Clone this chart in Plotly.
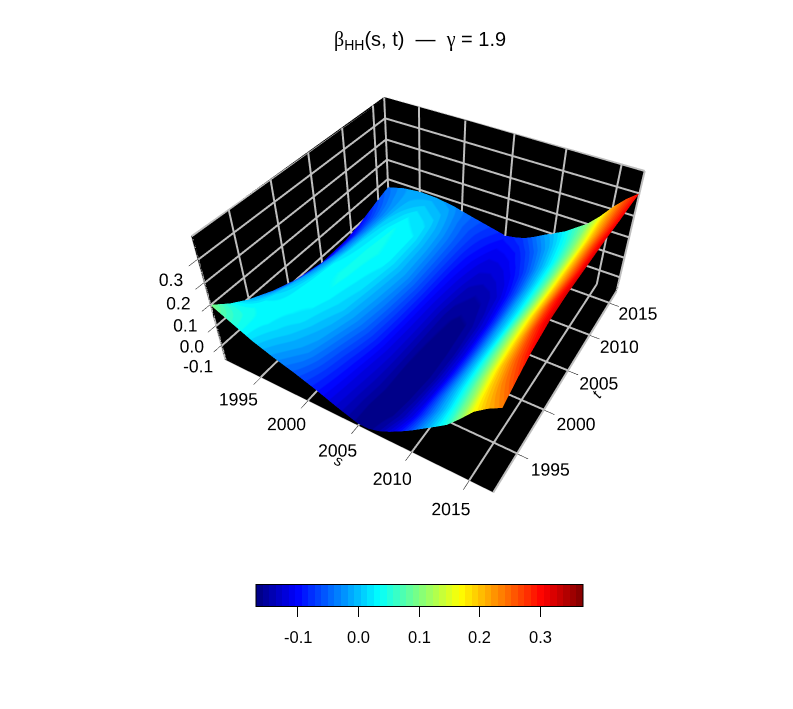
import plotly.graph_objects as go
import numpy as np

s_years = [1991, 1993, 1995, 1997, 1999, 2001, 2003, 2005, 2006, 2007, 2008, 2009, 2010, 2011, 2012, 2013, 2014, 2015, 2016, 2017]
t_years = [1991, 1993, 1995, 1998, 2001, 2005, 2009, 2012, 2015, 2017]

# beta_HH(s, t), one row per t
beta_hh = [
    [0.100, 0.055, 0.010, -0.025, -0.055, -0.090, -0.130, -0.165, -0.165, -0.150, -0.125, -0.095, -0.062, -0.025, 0.012, 0.050, 0.105, 0.165, 0.205, 0.235],
    [0.040, 0.040, 0.025, 0.000, -0.030, -0.080, -0.125, -0.165, -0.168, -0.160, -0.140, -0.110, -0.070, -0.030, 0.012, 0.060, 0.115, 0.180, 0.230, 0.270],
    [-0.007, 0.025, 0.030, 0.018, -0.015, -0.070, -0.120, -0.160, -0.168, -0.165, -0.145, -0.115, -0.070, -0.025, 0.020, 0.070, 0.130, 0.195, 0.250, 0.300],
    [-0.060, 0.000, 0.032, 0.032, 0.005, -0.050, -0.110, -0.160, -0.170, -0.168, -0.150, -0.120, -0.075, -0.025, 0.025, 0.080, 0.140, 0.205, 0.270, 0.325],
    [-0.100, -0.025, 0.028, 0.038, 0.015, -0.040, -0.105, -0.158, -0.168, -0.165, -0.150, -0.120, -0.075, -0.025, 0.025, 0.085, 0.145, 0.210, 0.275, 0.330],
    [-0.130, -0.045, 0.015, 0.040, 0.028, -0.030, -0.100, -0.155, -0.163, -0.160, -0.145, -0.115, -0.070, -0.020, 0.025, 0.080, 0.140, 0.205, 0.265, 0.325],
    [-0.125, -0.050, 0.008, 0.035, 0.025, -0.035, -0.095, -0.140, -0.148, -0.145, -0.130, -0.100, -0.060, -0.015, 0.030, 0.080, 0.140, 0.205, 0.265, 0.320],
    [-0.100, -0.045, 0.000, 0.022, 0.010, -0.040, -0.090, -0.125, -0.127, -0.120, -0.105, -0.080, -0.045, -0.005, 0.035, 0.085, 0.140, 0.205, 0.260, 0.310],
    [-0.065, -0.030, -0.008, 0.000, -0.012, -0.050, -0.080, -0.105, -0.102, -0.095, -0.075, -0.050, -0.020, 0.015, 0.050, 0.095, 0.150, 0.210, 0.260, 0.305],
    [-0.045, -0.022, -0.012, -0.015, -0.028, -0.050, -0.070, -0.090, -0.082, -0.070, -0.047, -0.020, 0.005, 0.030, 0.065, 0.100, 0.150, 0.210, 0.260, 0.300],
]

year_ticks = [1995, 2000, 2005, 2010, 2015]
z_ticks = [-0.1, 0.0, 0.1, 0.2, 0.3]
z_labels = ["-0.1", "0.0", "0.1", "0.2", "0.3"]
jet_ramp = ["#00007F", "#0000FF", "#007FFF", "#00FFFF", "#7FFF7F", "#FFFF00", "#FF7F00", "#FF0000", "#7F0000"]
n_colors = 50
font_name = "Liberation Sans"
grey = "#BEBEBE"

s_lim = [1991, 2017]
t_lim = [1991, 2017]
z_lim = [-0.176, 0.395]
c_lim = [-0.17, 0.37]

# the page body has an 8px margin, so the figure is 16px short of the window
W, H = 785, 701
bar_left, bar_width = 247.5, 327


def stepped_scale(ramp, n):
    rgb = np.array([[int(c[i:i + 2], 16) for i in (1, 3, 5)] for c in ramp], dtype=float)
    pos = np.linspace(0, 1, len(ramp))
    scale = []
    for i in range(n):
        mid = (i + 0.5) / n
        col = [int(round(np.interp(mid, pos, rgb[:, k]))) for k in range(3)]
        css = "rgb(%d,%d,%d)" % tuple(col)
        scale.append([i / n, css])
        scale.append([(i + 1) / n, css])
    return scale


def axis(ticks, labels, rng):
    return dict(
        title=dict(text=""),
        range=rng,
        tickmode="array",
        tickvals=ticks,
        ticktext=labels,
        tickangle=0,
        tickfont=dict(family=font_name, size=14.5, color="black"),
        ticks="outside",
        ticklen=9,
        tickwidth=1,
        tickcolor="black",
        showgrid=False,
        showline=True,
        linecolor=grey,
        linewidth=1,
        showbackground=True,
        backgroundcolor="black",
        showspikes=False,
        zeroline=False,
    )


# grey wall grid and box edges, thicker than the native gl grid can go
gx, gy, gz = [], [], []


def add_line(p, q):
    gx.extend([p[0], q[0], None])
    gy.extend([p[1], q[1], None])
    gz.extend([p[2], q[2], None])


# lifted just off the walls so they do not fight with them
s0, s1 = s_lim[0] + 0.06, s_lim[1]
t0, t1 = t_lim[0], t_lim[1] - 0.06
z0, z1 = z_lim[0] + 0.0015, z_lim[1]
for yr in year_ticks:
    add_line((yr, t0, z0), (yr, t1, z0))
    add_line((s0, yr, z0), (s1, yr, z0))
    add_line((s0, yr, z0), (s0, yr, z1))
    add_line((yr, t1, z0), (yr, t1, z1))
for zv in z_ticks:
    add_line((s0, t0, zv), (s0, t1, zv))
    add_line((s0, t1, zv), (s1, t1, zv))
add_line((s0, t0, z0), (s1, t0, z0))
add_line((s1, t0, z0), (s1, t1, z0))
add_line((s0, t0, z0), (s0, t0, z1))
add_line((s1, t1, z0), (s1, t1, z1))
add_line((s0, t1, z0), (s0, t1, z1))
add_line((s0, t0, z1), (s0, t1, z1))
add_line((s0, t1, z1), (s1, t1, z1))

fig = go.Figure()
fig.add_trace(go.Scatter3d(
    x=gx, y=gy, z=gz,
    mode="lines",
    line=dict(color=grey, width=4),
    hoverinfo="skip",
    showlegend=False,
))
fig.add_trace(go.Surface(
    x=s_years,
    y=t_years,
    z=beta_hh,
    cmin=c_lim[0],
    cmax=c_lim[1],
    colorscale=stepped_scale(jet_ramp, n_colors),
    lighting=dict(ambient=1, diffuse=0, specular=0, roughness=1, fresnel=0),
    hoverinfo="skip",
    colorbar=dict(
        orientation="h",
        lenmode="pixels",
        len=bar_width,
        thickness=22,
        x=(bar_left + bar_width / 2) / W,
        xanchor="center",
        y=1 - 593 / H,
        yanchor="middle",
        xpad=0,
        ypad=0,
        outlinecolor="black",
        outlinewidth=1,
        tickvals=z_ticks,
        showticklabels=False,
        ticks="outside",
        ticklen=10,
        tickcolor="black",
    ),
))

notes = [dict(
    text='<span style="font-family:Liberation Serif">β</span><sub>HH</sub>(s, t)&nbsp;&nbsp;—&nbsp;&nbsp;'
         '<span style="font-family:Liberation Serif">γ</span> = 1.9',
    x=411.5 / W,
    y=1 - 32 / H,
    xref="paper",
    yref="paper",
    xanchor="center",
    yanchor="middle",
    showarrow=False,
    font=dict(family=font_name, size=20, color="black"),
)]
for v, lab in zip(z_ticks, z_labels):
    notes.append(dict(
        text=lab,
        x=(bar_left + (v - c_lim[0]) / (c_lim[1] - c_lim[0]) * bar_width) / W,
        y=1 - 629 / H,
        xref="paper",
        yref="paper",
        xanchor="center",
        yanchor="middle",
        showarrow=False,
        font=dict(family=font_name, size=16.5, color="black"),
    ))

fig.update_layout(
    width=W,
    height=H,
    margin=dict(l=0, r=0, t=0, b=0),
    paper_bgcolor="white",
    showlegend=False,
    scene=dict(
        domain=dict(x=[55 / W, 1], y=[1 - 600 / H, 1]),
        aspectmode="manual",
        aspectratio=dict(x=1, y=1, z=0.513),
        camera=dict(
            eye=dict(x=0.930, y=-1.581, z=1.5015),
            center=dict(x=0.063, y=-0.125, z=-0.0535),
            up=dict(x=0, y=0, z=1),
            projection=dict(type="perspective"),
        ),
        xaxis=axis(year_ticks, [str(y) for y in year_ticks], s_lim),
        yaxis=axis(year_ticks, [str(y) for y in year_ticks], t_lim),
        zaxis=axis(z_ticks, z_labels, z_lim),
        annotations=[
            dict(x=2005, y=t_lim[0], z=z_lim[0], text="<i>s</i>", showarrow=False, xshift=-19, yshift=-35, textangle=25,
                 font=dict(family=font_name, size=15, color="black")),
            dict(x=s_lim[1], y=2005, z=z_lim[0], text="<i>t</i>", showarrow=False, xshift=29, yshift=-23, textangle=-55,
                 font=dict(family=font_name, size=15, color="black")),
        ],
    ),
    annotations=notes,
)

fig.write_html("out.html")
